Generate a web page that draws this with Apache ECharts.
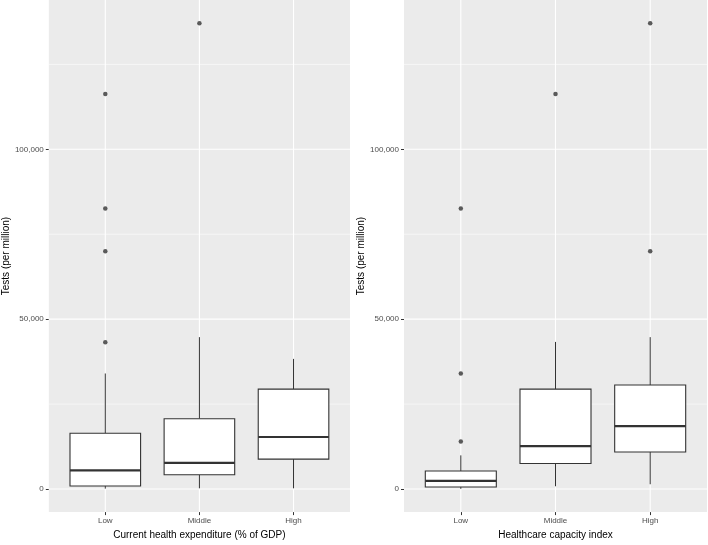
<!DOCTYPE html>
<html>
<head>
<meta charset="utf-8">
<script src="https://cdn.jsdelivr.net/npm/echarts@6/dist/echarts.min.js"></script>
<style>
html,body{margin:0;padding:0;background:#fff;}
#chart{width:708px;height:545px;}
</style>
</head>
<body>
<div id="chart"></div>
<script>
// ---- data ----
const categories = ['Low', 'Middle', 'High'];
const yTicks = [0, 50000, 100000];
const yMinorTicks = [25000, 75000, 125000];

// [min whisker, Q1, median, Q3, max whisker]
const expenditureBoxes = [
  [100, 900, 5500, 16400, 34000],
  [200, 4200, 7700, 20700, 44700],
  [200, 8800, 15300, 29400, 38300]
];
// [category index, value]
const expenditureOutliers = [
  [0, 116300], [0, 82600], [0, 70000], [0, 43200],
  [1, 137100]
];

const capacityBoxes = [
  [50, 600, 2400, 5300, 9900],
  [800, 7500, 12600, 29400, 43300],
  [1400, 10900, 18500, 30600, 44700]
];
const capacityOutliers = [
  [0, 82600], [0, 34000], [0, 14000],
  [1, 116300],
  [2, 137100], [2, 70000]
];

const xTitles = ['Current health expenditure (% of GDP)', 'Healthcare capacity index'];
const yTitle = 'Tests (per million)';

// ---- shared y range like ggplot (5% expansion of data range) ----
const allVals = [];
[expenditureBoxes, capacityBoxes].forEach(b => b.forEach(r => r.forEach(v => allVals.push(v))));
[expenditureOutliers, capacityOutliers].forEach(o => o.forEach(p => allVals.push(p[1])));
const lo = Math.min(...allVals), hi = Math.max(...allVals);
const pad = (hi - lo) * 0.05;
const yMin = lo - pad, yMax = hi + pad;

const FONT = 'Liberation Sans, Arial, sans-serif';
const fmt = v => Math.round(v).toString().replace(/\B(?=(\d{3})+(?!\d))/g, ',');

const grids = [
  { left: 47, top: 0, width: 303, height: 521, show: true, backgroundColor: '#ebebeb', borderWidth: 0 },
  { left: 404, top: 0, width: 303, height: 521, show: true, backgroundColor: '#ebebeb', borderWidth: 0 }
];

function xAxis(i) {
  return {
    type: 'value', gridIndex: i, min: -0.6, max: 2.6, position: 'bottom',
    name: xTitles[i], nameLocation: 'middle', nameGap: 12,
    nameTextStyle: { fontFamily: FONT, fontSize: 10, color: '#000' },
    axisLine: { show: false, onZero: false },
    splitLine: { show: false },
    axisTick: { show: true, length: 3, lineStyle: { color: '#333', width: 1 }, customValues: [0, 1, 2] },
    axisLabel: { fontFamily: FONT, fontSize: 8, color: '#4d4d4d', margin: 5, customValues: [0, 1, 2],
      formatter: v => categories[Math.round(v)] || '' }
  };
}
function yAxis(i) {
  return {
    type: 'value', gridIndex: i, min: yMin, max: yMax, position: 'left',
    name: yTitle, nameLocation: 'middle', nameGap: 36,
    nameTextStyle: { fontFamily: FONT, fontSize: 10, color: '#000' },
    axisLine: { show: false, onZero: false },
    splitLine: { show: false },
    axisTick: { show: true, length: 3, lineStyle: { color: '#333', width: 1 }, customValues: yTicks },
    axisLabel: { fontFamily: FONT, fontSize: 8, color: '#4d4d4d', margin: 5, customValues: yTicks,
      formatter: v => fmt(v) }
  };
}

function gridLinesSeries(i) {
  return {
    type: 'custom', xAxisIndex: i, yAxisIndex: i, z: 1, silent: true,
    data: [[0, 0]],
    renderItem: function (params, api) {
      const cs = params.coordSys;
      const children = [];
      yMinorTicks.forEach(v => {
        const y = api.coord([0, v])[1];
        children.push({ type: 'line', shape: { x1: cs.x, y1: y, x2: cs.x + cs.width, y2: y },
          style: { stroke: '#fff', lineWidth: 0.55 } });
      });
      yTicks.forEach(v => {
        const y = api.coord([0, v])[1];
        children.push({ type: 'line', shape: { x1: cs.x, y1: y, x2: cs.x + cs.width, y2: y },
          style: { stroke: '#fff', lineWidth: 1.1 } });
      });
      categories.forEach((c, k) => {
        const x = api.coord([k, 0])[0];
        children.push({ type: 'line', shape: { x1: x, y1: cs.y, x2: x, y2: cs.y + cs.height },
          style: { stroke: '#fff', lineWidth: 1.1 } });
      });
      return { type: 'group', children: children };
    }
  };
}

function boxSeries(i, boxes) {
  return {
    type: 'custom', xAxisIndex: i, yAxisIndex: i, z: 3,
    data: boxes.map((b, k) => [k].concat(b)),
    encode: { x: 0, y: [1, 2, 3, 4, 5] },
    renderItem: function (params, api) {
      const x = api.value(0);
      const v = [1, 2, 3, 4, 5].map(d => api.value(d));
      const w = api.size([0.75, 0])[0];
      const cx = api.coord([x, v[0]])[0];
      const yMinW = api.coord([x, v[0]])[1];
      const yQ1 = api.coord([x, v[1]])[1];
      const yMed = api.coord([x, v[2]])[1];
      const yQ3 = api.coord([x, v[3]])[1];
      const yMaxW = api.coord([x, v[4]])[1];
      const stroke = '#333333';
      return {
        type: 'group',
        children: [
          { type: 'line', shape: { x1: cx, y1: yQ1, x2: cx, y2: yMinW }, style: { stroke: stroke, lineWidth: 1 } },
          { type: 'line', shape: { x1: cx, y1: yQ3, x2: cx, y2: yMaxW }, style: { stroke: stroke, lineWidth: 1 } },
          { type: 'rect', shape: { x: cx - w / 2, y: yQ3, width: w, height: yQ1 - yQ3 },
            style: { fill: '#ffffff', stroke: stroke, lineWidth: 1.1 } },
          { type: 'line', shape: { x1: cx - w / 2, y1: yMed, x2: cx + w / 2, y2: yMed },
            style: { stroke: stroke, lineWidth: 2.2 } }
        ]
      };
    }
  };
}

function outlierSeries(i, pts) {
  return {
    type: 'scatter', xAxisIndex: i, yAxisIndex: i, z: 4,
    data: pts, symbol: 'circle', symbolSize: 4.5,
    itemStyle: { color: '#333333' }
  };
}

const option = {
  animation: false,
  backgroundColor: '#ffffff',
  grid: grids,
  xAxis: [xAxis(0), xAxis(1)],
  yAxis: [yAxis(0), yAxis(1)],
  series: [
    gridLinesSeries(0), gridLinesSeries(1),
    boxSeries(0, expenditureBoxes), boxSeries(1, capacityBoxes),
    outlierSeries(0, expenditureOutliers), outlierSeries(1, capacityOutliers)
  ]
};

const chart = echarts.init(document.getElementById('chart'), null, { renderer: 'canvas' });
chart.setOption(option);
</script>
</body>
</html>
